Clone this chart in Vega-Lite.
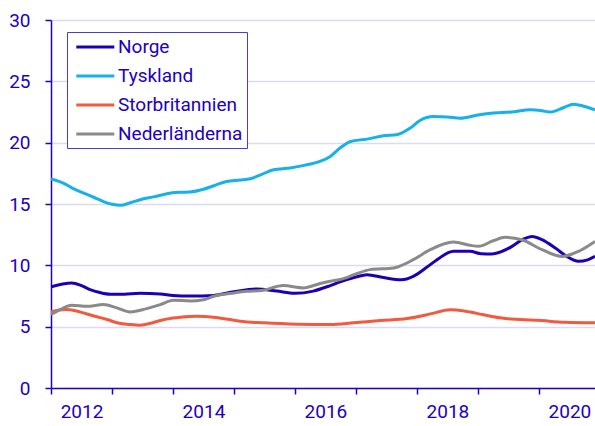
{
  "$schema": "https://vega.github.io/schema/vega-lite/v6.json",
  "width": 544,
  "height": 368,
  "autosize": {"type": "none"},
  "padding": {"left": 51, "top": 20, "right": 0, "bottom": 38},
  "config": {"view": {"stroke": null}, "font": "Roboto"},
  "data": {"values": [
    {"s":"Norge","t":2012.0,"v":8.24},{"s":"Norge","t":2012.17,"v":8.45},{"s":"Norge","t":2012.34,"v":8.57},{"s":"Norge","t":2012.5,"v":8.35},{"s":"Norge","t":2012.64,"v":8.02},{"s":"Norge","t":2012.8,"v":7.78},{"s":"Norge","t":2012.97,"v":7.64},{"s":"Norge","t":2013.2,"v":7.65},{"s":"Norge","t":2013.46,"v":7.72},{"s":"Norge","t":2013.79,"v":7.67},{"s":"Norge","t":2014.0,"v":7.55},{"s":"Norge","t":2014.28,"v":7.5},{"s":"Norge","t":2014.67,"v":7.55},{"s":"Norge","t":2015.0,"v":7.85},{"s":"Norge","t":2015.38,"v":8.08},{"s":"Norge","t":2015.7,"v":7.9},{"s":"Norge","t":2016.0,"v":7.72},{"s":"Norge","t":2016.3,"v":7.9},{"s":"Norge","t":2016.58,"v":8.35},{"s":"Norge","t":2016.74,"v":8.65},{"s":"Norge","t":2017.0,"v":9.05},{"s":"Norge","t":2017.18,"v":9.24},{"s":"Norge","t":2017.45,"v":9.0},{"s":"Norge","t":2017.75,"v":8.82},{"s":"Norge","t":2017.94,"v":9.1},{"s":"Norge","t":2018.15,"v":9.8},{"s":"Norge","t":2018.33,"v":10.46},{"s":"Norge","t":2018.6,"v":11.14},{"s":"Norge","t":2018.87,"v":11.14},{"s":"Norge","t":2019.05,"v":10.95},{"s":"Norge","t":2019.23,"v":10.93},{"s":"Norge","t":2019.4,"v":11.15},{"s":"Norge","t":2019.56,"v":11.55},{"s":"Norge","t":2019.75,"v":12.15},{"s":"Norge","t":2019.89,"v":12.36},{"s":"Norge","t":2020.05,"v":12.1},{"s":"Norge","t":2020.27,"v":11.41},{"s":"Norge","t":2020.45,"v":10.75},{"s":"Norge","t":2020.65,"v":10.33},{"s":"Norge","t":2020.8,"v":10.45},{"s":"Norge","t":2020.92,"v":10.73},
    {"s":"Tyskland","t":2012.0,"v":17.04},{"s":"Tyskland","t":2012.2,"v":16.71},{"s":"Tyskland","t":2012.35,"v":16.3},{"s":"Tyskland","t":2012.53,"v":15.9},{"s":"Tyskland","t":2012.7,"v":15.55},{"s":"Tyskland","t":2012.86,"v":15.2},{"s":"Tyskland","t":2013.0,"v":14.98},{"s":"Tyskland","t":2013.14,"v":14.89},{"s":"Tyskland","t":2013.3,"v":15.1},{"s":"Tyskland","t":2013.46,"v":15.35},{"s":"Tyskland","t":2013.7,"v":15.6},{"s":"Tyskland","t":2013.9,"v":15.84},{"s":"Tyskland","t":2014.1,"v":15.95},{"s":"Tyskland","t":2014.28,"v":15.98},{"s":"Tyskland","t":2014.5,"v":16.2},{"s":"Tyskland","t":2014.67,"v":16.49},{"s":"Tyskland","t":2014.88,"v":16.84},{"s":"Tyskland","t":2015.1,"v":16.95},{"s":"Tyskland","t":2015.27,"v":17.06},{"s":"Tyskland","t":2015.45,"v":17.4},{"s":"Tyskland","t":2015.65,"v":17.79},{"s":"Tyskland","t":2015.92,"v":17.93},{"s":"Tyskland","t":2016.15,"v":18.15},{"s":"Tyskland","t":2016.41,"v":18.47},{"s":"Tyskland","t":2016.58,"v":18.88},{"s":"Tyskland","t":2016.75,"v":19.6},{"s":"Tyskland","t":2016.91,"v":20.1},{"s":"Tyskland","t":2017.18,"v":20.29},{"s":"Tyskland","t":2017.45,"v":20.56},{"s":"Tyskland","t":2017.67,"v":20.64},{"s":"Tyskland","t":2017.89,"v":21.19},{"s":"Tyskland","t":2018.05,"v":21.81},{"s":"Tyskland","t":2018.27,"v":22.13},{"s":"Tyskland","t":2018.5,"v":22.1},{"s":"Tyskland","t":2018.71,"v":22.0},{"s":"Tyskland","t":2019.0,"v":22.25},{"s":"Tyskland","t":2019.26,"v":22.41},{"s":"Tyskland","t":2019.55,"v":22.5},{"s":"Tyskland","t":2019.86,"v":22.68},{"s":"Tyskland","t":2020.05,"v":22.6},{"s":"Tyskland","t":2020.19,"v":22.49},{"s":"Tyskland","t":2020.4,"v":22.85},{"s":"Tyskland","t":2020.57,"v":23.14},{"s":"Tyskland","t":2020.75,"v":22.95},{"s":"Tyskland","t":2020.92,"v":22.68},
    {"s":"Storbritannien","t":2012.0,"v":6.2},{"s":"Storbritannien","t":2012.23,"v":6.39},{"s":"Storbritannien","t":2012.4,"v":6.3},{"s":"Storbritannien","t":2012.53,"v":6.12},{"s":"Storbritannien","t":2012.72,"v":5.85},{"s":"Storbritannien","t":2012.92,"v":5.58},{"s":"Storbritannien","t":2013.1,"v":5.3},{"s":"Storbritannien","t":2013.3,"v":5.17},{"s":"Storbritannien","t":2013.46,"v":5.12},{"s":"Storbritannien","t":2013.65,"v":5.3},{"s":"Storbritannien","t":2013.79,"v":5.5},{"s":"Storbritannien","t":2014.0,"v":5.7},{"s":"Storbritannien","t":2014.12,"v":5.77},{"s":"Storbritannien","t":2014.39,"v":5.85},{"s":"Storbritannien","t":2014.67,"v":5.77},{"s":"Storbritannien","t":2014.9,"v":5.6},{"s":"Storbritannien","t":2015.1,"v":5.44},{"s":"Storbritannien","t":2015.49,"v":5.31},{"s":"Storbritannien","t":2016.03,"v":5.2},{"s":"Storbritannien","t":2016.58,"v":5.17},{"s":"Storbritannien","t":2016.96,"v":5.31},{"s":"Storbritannien","t":2017.4,"v":5.5},{"s":"Storbritannien","t":2017.84,"v":5.66},{"s":"Storbritannien","t":2018.05,"v":5.85},{"s":"Storbritannien","t":2018.22,"v":6.04},{"s":"Storbritannien","t":2018.55,"v":6.37},{"s":"Storbritannien","t":2018.75,"v":6.3},{"s":"Storbritannien","t":2018.87,"v":6.2},{"s":"Storbritannien","t":2019.07,"v":5.99},{"s":"Storbritannien","t":2019.45,"v":5.66},{"s":"Storbritannien","t":2019.99,"v":5.52},{"s":"Storbritannien","t":2020.43,"v":5.36},{"s":"Storbritannien","t":2020.92,"v":5.31},
    {"s":"Nederländerna","t":2012.0,"v":5.99},{"s":"Nederländerna","t":2012.15,"v":6.39},{"s":"Nederländerna","t":2012.34,"v":6.75},{"s":"Nederländerna","t":2012.59,"v":6.66},{"s":"Nederländerna","t":2012.86,"v":6.8},{"s":"Nederländerna","t":2013.08,"v":6.53},{"s":"Nederländerna","t":2013.3,"v":6.2},{"s":"Nederländerna","t":2013.57,"v":6.47},{"s":"Nederländerna","t":2013.79,"v":6.8},{"s":"Nederländerna","t":2014.01,"v":7.15},{"s":"Nederländerna","t":2014.28,"v":7.1},{"s":"Nederländerna","t":2014.5,"v":7.2},{"s":"Nederländerna","t":2014.67,"v":7.48},{"s":"Nederländerna","t":2015.0,"v":7.75},{"s":"Nederländerna","t":2015.21,"v":7.88},{"s":"Nederländerna","t":2015.45,"v":7.95},{"s":"Nederländerna","t":2015.81,"v":8.35},{"s":"Nederländerna","t":2016.14,"v":8.16},{"s":"Nederländerna","t":2016.4,"v":8.5},{"s":"Nederländerna","t":2016.58,"v":8.7},{"s":"Nederländerna","t":2016.74,"v":8.84},{"s":"Nederländerna","t":2017.0,"v":9.3},{"s":"Nederländerna","t":2017.23,"v":9.65},{"s":"Nederländerna","t":2017.62,"v":9.79},{"s":"Nederländerna","t":2017.94,"v":10.46},{"s":"Nederländerna","t":2018.22,"v":11.28},{"s":"Nederländerna","t":2018.6,"v":11.9},{"s":"Nederländerna","t":2018.87,"v":11.63},{"s":"Nederländerna","t":2019.01,"v":11.55},{"s":"Nederländerna","t":2019.25,"v":12.0},{"s":"Nederländerna","t":2019.45,"v":12.28},{"s":"Nederländerna","t":2019.72,"v":12.09},{"s":"Nederländerna","t":2020.05,"v":11.28},{"s":"Nederländerna","t":2020.38,"v":10.73},{"s":"Nederländerna","t":2020.65,"v":11.14},{"s":"Nederländerna","t":2020.92,"v":11.95}
  ]},
  "mark": {"type": "line", "interpolate": "monotone", "strokeWidth": 3},
  "encoding": {
    "x": {
      "field": "t", "type": "quantitative",
      "scale": {"domain": [2012, 2020.92], "nice": false, "zero": false},
      "axis": {
        "title": null, "grid": false,
        "values": [2012, 2013, 2014, 2015, 2016, 2017, 2018, 2019, 2020],
        "format": "d",
        "labelExpr": "datum.value % 2 == 0 ? datum.label : ''",
        "labelOffset": 30.5,
        "labelOverlap": false, "labelBound": false, "labelFlush": false,
        "domainColor": "#2200c0", "tickColor": "#2200c0", "tickSize": 6, "tickWidth": 1.5, "domainWidth": 1.5,
        "labelColor": "#2200c0", "labelFontSize": 19, "labelPadding": 8, "labelFont": "Roboto"
      }
    },
    "y": {
      "field": "v", "type": "quantitative",
      "scale": {"domain": [0, 30], "nice": false},
      "axis": {
        "title": null,
        "values": [0, 5, 10, 15, 20, 25, 30],
        "gridColor": "#dcd9f3", "gridWidth": 1.5,
        "domainColor": "#2200c0", "tickColor": "#2200c0", "tickSize": 6, "tickWidth": 1.5, "domainWidth": 1.5,
        "labelColor": "#2200c0", "labelFontSize": 19, "labelPadding": 15, "labelFont": "Roboto"
      }
    },
    "color": {
      "field": "s", "type": "nominal",
      "scale": {
        "domain": ["Norge", "Tyskland", "Storbritannien", "Nederländerna"],
        "range": ["#1e00b4", "#16b1e8", "#f25a3f", "#8a8a8a"]
      },
      "legend": {
        "orient": "none", "legendX": 16, "legendY": 12,
        "title": null, "direction": "vertical",
        "symbolType": "M-0.6,0H3.4", "symbolSize": 361, "symbolStrokeWidth": 3,
        "labelFontSize": 19, "labelColor": "#2200c0", "labelFont": "Roboto",
        "labelOffset": 25, "rowPadding": 8, "padding": 4,
        "strokeColor": "#4a3cd0", "fillColor": "white"
      }
    }
  }
}
